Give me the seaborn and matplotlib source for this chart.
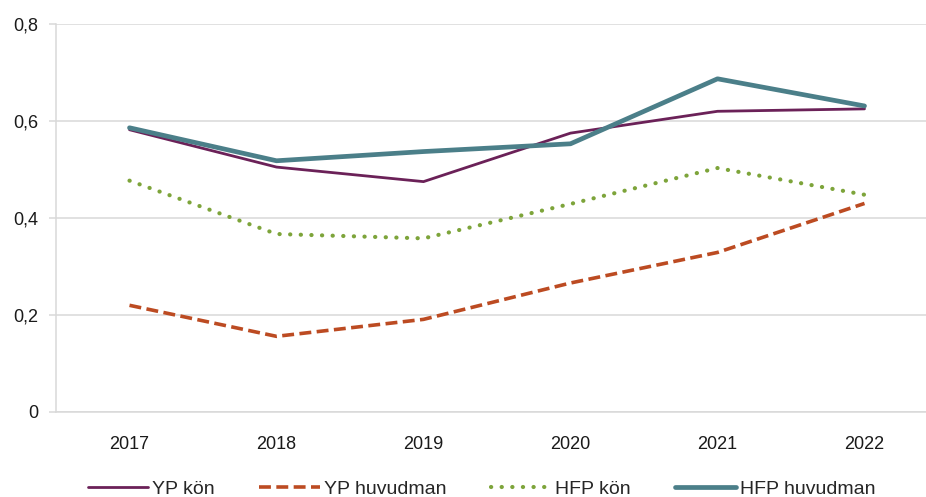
import matplotlib
matplotlib.use("Agg")
import matplotlib.pyplot as plt
import seaborn as sns
import pandas as pd
from matplotlib.ticker import FuncFormatter

# data
years = ["2017", "2018", "2019", "2020", "2021", "2022"]
yp_kon = [0.582, 0.505, 0.475, 0.575, 0.620, 0.625]
yp_huvudman = [0.220, 0.156, 0.191, 0.266, 0.329, 0.430]
hfp_kon = [0.477, 0.367, 0.358, 0.429, 0.503, 0.448]
hfp_huvudman = [0.586, 0.518, 0.537, 0.553, 0.687, 0.631]

series = {
    "YP kön": yp_kon,
    "YP huvudman": yp_huvudman,
    "HFP kön": hfp_kon,
    "HFP huvudman": hfp_huvudman,
}

styles = {
    "YP kön": dict(color="#6B2158", lw=2.0, ls="-", cap="round"),
    "YP huvudman": dict(color="#BC4B22", lw=2.6, ls=(0, (3.3, 1.5)), cap="butt"),
    "HFP kön": dict(color="#7DA43A", lw=3.0, ls=(0, (0.05, 2.5)), cap="round"),
    "HFP huvudman": dict(color="#4B7F89", lw=3.4, ls="-", cap="round"),
}

sns.set_style("white")
plt.rcParams["font.family"] = ["Liberation Sans", "DejaVu Sans"]

fig = plt.figure(figsize=(9.26, 4.97), dpi=100)
ax = fig.add_axes([56 / 926, 85 / 497, 870 / 926, 388 / 497])

for name, vals in series.items():
    st = styles[name]
    df = pd.DataFrame({"year": years, "value": vals})
    sns.lineplot(data=df, x="year", y="value", ax=ax, label=name,
                 color=st["color"], linewidth=st["lw"], linestyle=st["ls"],
                 dash_capstyle=st["cap"], solid_capstyle="round",
                 solid_joinstyle="round", sort=False)

ax.set_xlim(-0.5, -0.5 + 870 / 147)
ax.set_ylim(0, 0.8)
ax.set_yticks([0, 0.2, 0.4, 0.6, 0.8])
ax.yaxis.set_major_formatter(FuncFormatter(
    lambda v, p: "0" if abs(v) < 1e-9 else f"{v:.1f}".replace(".", ",")))
ax.set_xlabel("")
ax.set_ylabel("")

ax.grid(axis="y", color="#D9D9D9", linewidth=1.1)
ax.grid(axis="x", visible=False)
ax.set_axisbelow(True)
for s in ["top", "right"]:
    ax.spines[s].set_visible(False)
for s in ["left", "bottom"]:
    ax.spines[s].set_color("#D9D9D9")
    ax.spines[s].set_linewidth(1.1)

ax.tick_params(axis="y", left=True, length=5, width=1.1, color="#D9D9D9",
               pad=8, labelsize=13, labelcolor="#1a1a1a")
ax.tick_params(axis="x", bottom=False, pad=14, labelsize=13, labelcolor="#1a1a1a")

ax.legend_.remove()
handles, labels = ax.get_legend_handles_labels()
fig.legend(handles, labels, loc="center", bbox_to_anchor=(0.52, 0.016),
           ncol=4, frameon=False, fontsize=14, handlelength=3.1,
           handletextpad=0.2, columnspacing=2.3, borderpad=0)

fig.savefig("out.png", dpi=100)
